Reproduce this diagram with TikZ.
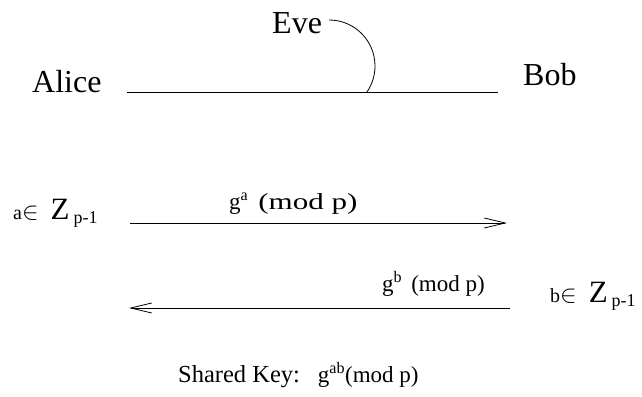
\documentclass[tikz,border=0pt]{standalone}
\usepackage{fontspec}
\setmainfont{Liberation Serif}
\usetikzlibrary{arrows.meta,positioning}

\begin{document}
\begin{tikzpicture}[x=1pt, y=1pt,
  party/.style={anchor=base west, inner sep=0pt, font=\fontsize{32}{36}\selectfont},
  msg/.style={anchor=base west, inner sep=0pt, font=\fontsize{23}{26}\selectfont},
  chan/.style={line width=0.8pt},
  arrow/.style={line width=0.8pt, -{Straight Barb[length=21pt, width=10pt, line width=0.8pt]}},
]
\useasboundingbox (0,0) rectangle (642,396);

% Parties
\node[party] (alice) at (32,303) {Alice};
\node[party] (bob) at (523,310) {Bob};
\node[party] (eve) at (272,362) {Eve};

% Channel and Eve's tap
\coordinate (chanL) at (127,304);
\coordinate (chanR) at (498,304);
\coordinate (tap) at (329,376);
\draw[chan] (chanL) -- (chanR);
\draw[chan] (tap) arc[start angle=90, end angle=-35, radius=46];

% Secrets
\node[msg] (asecret) at (13,176) {{\fontsize{20}{24}\selectfont a}$\in$\hspace{12pt}{\fontsize{31}{36}\selectfont Z}\hspace{4pt}\raisebox{-4pt}{\fontsize{18}{22}\selectfont p-1}};
\node[msg] (bsecret) at (550,93) {{\fontsize{20}{24}\selectfont b}$\in$\hspace{12pt}{\fontsize{31}{36}\selectfont Z}\hspace{4pt}\raisebox{-4pt}{\fontsize{18}{22}\selectfont p-1}};

% Messages
\coordinate (aStart) at (130,173);
\coordinate (aEnd) at (507,173);
\coordinate (bStart) at (510,88);
\coordinate (bEnd) at (129,88);
\draw[arrow] (aStart) -- (aEnd);
\draw[arrow] (bStart) -- (bEnd);
\node[msg] (ga) at (229,186) {g\textsuperscript{a}\hspace{10pt}\scalebox{1.35}[1]{(mod p)}};
\node[msg] (gb) at (382,104) {g\textsuperscript{b}\hspace{9pt}(mod p)};

% Result
\node[msg] (shared) at (178,13) {{\fontsize{24.5}{30}\selectfont Shared Key:}\hspace{18pt}g\textsuperscript{ab}(mod p)};
\end{tikzpicture}
\end{document}
